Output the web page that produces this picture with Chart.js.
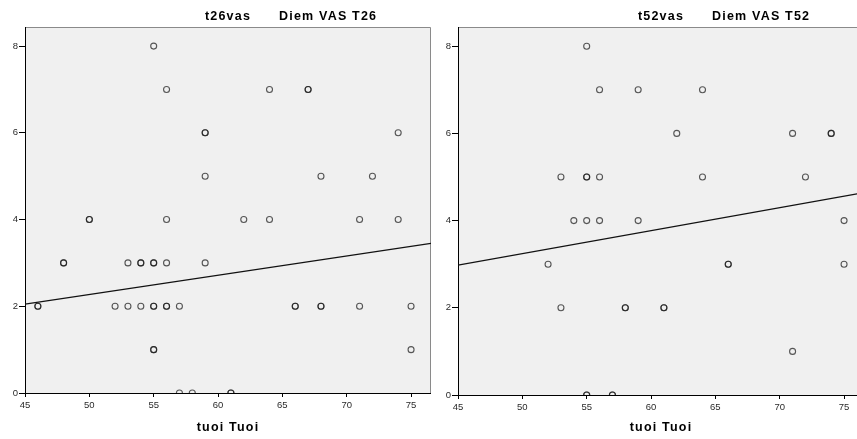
<!DOCTYPE html>
<html>
<head>
<meta charset="utf-8">
<script src="https://cdn.jsdelivr.net/npm/chart.js@4/dist/chart.umd.min.js"></script>
<style>
  html, body { margin: 0; padding: 0; background: #fff; overflow: hidden; }
  body { width: 857px; height: 439px; position: relative; }
  canvas { position: absolute; top: 0; display: block; }
  #chart26 { left: 0; }
  #chart52 { left: 433px; }
</style>
</head>
<body>
<canvas id="chart26" width="431" height="439"></canvas>
<canvas id="chart52" width="431" height="439"></canvas>
<script>
/* ---------- data ---------- */
const xTicks = [45, 50, 55, 60, 65, 70, 75];
const yTicks = [0, 2, 4, 6, 8];

// T26 panel (repeated pairs = overlapping points)
const t26Age = [55, 56, 64, 67, 67, 59, 59, 74, 59, 68, 72,
  50, 50, 56, 62, 64, 71, 74,
  48, 48, 53, 54, 54, 55, 55, 56, 59,
  46, 46, 52, 53, 54, 55, 55, 56, 56, 57, 66, 66, 68, 68, 71, 75,
  55, 55, 75,
  57, 58, 61, 61];
const t26Vas = [8, 7, 7, 7, 7, 6, 6, 6, 5, 5, 5,
  4, 4, 4, 4, 4, 4, 4,
  3, 3, 3, 3, 3, 3, 3, 3, 3,
  2, 2, 2, 2, 2, 2, 2, 2, 2, 2, 2, 2, 2, 2, 2, 2,
  1, 1, 1,
  0, 0, 0, 0];
const t26FitX = [45, 76.55];
const t26FitY = [2.05, 3.45];

// T52 panel
const t52Age = [55, 56, 59, 64, 62, 71, 74, 74,
  53, 55, 55, 56, 64, 72,
  54, 55, 56, 59, 75,
  52, 66, 66, 75,
  53, 58, 58, 61, 61,
  71,
  55, 55, 57, 57];
const t52Vas = [8, 7, 7, 7, 6, 6, 6, 6,
  5, 5, 5, 5, 5, 5,
  4, 4, 4, 4, 4,
  3, 3, 3, 3,
  2, 2, 2, 2, 2,
  1,
  0, 0, 0, 0];
const t52FitX = [45, 76.55];
const t52FitY = [2.98, 4.64];

/* ---------- frame + titles ---------- */
const TEXT_FONT = 'bold 12.5px "Liberation Sans", Arial, sans-serif';
const TICK_FONT = { family: '"Liberation Sans", Arial, sans-serif', size: 9.5 };

const panelFrame = {
  id: 'panelFrame',
  beforeDraw(chart) {
    const { ctx, chartArea: a } = chart;
    ctx.save();
    ctx.fillStyle = '#f0f0f0';
    ctx.fillRect(a.left, a.top, a.right - a.left, a.bottom - a.top);
    ctx.strokeStyle = '#8a8a8a';
    ctx.lineWidth = 1;
    ctx.beginPath();
    ctx.moveTo(a.left, a.top + 0.5);
    ctx.lineTo(a.right - 0.5, a.top + 0.5);
    ctx.lineTo(a.right - 0.5, a.bottom);
    ctx.stroke();
    ctx.restore();
  },
  afterDraw(chart, args, opts) {
    const { ctx, chartArea: a } = chart;
    const mid = (a.left + a.right) / 2;
    ctx.save();
    ctx.font = TEXT_FONT;
    ctx.fillStyle = '#000';
    ctx.textBaseline = 'middle';
    if ('letterSpacing' in ctx) ctx.letterSpacing = '1.2px';
    ctx.textAlign = 'center';
    ctx.fillText(opts.varName, mid, 17);
    ctx.textAlign = 'left';
    ctx.fillText(opts.varLabel, mid + 51, 17);
    ctx.textAlign = 'center';
    ctx.fillText(opts.xTitle, mid, 428);
    ctx.restore();
  }
};

function makePanel(id, ages, scores, fitX, fitY, varName, varLabel, xAxisHeight) {
  const points = ages.map((x, i) => ({ x, y: scores[i] }));
  const fit = fitX.map((x, i) => ({ x, y: fitY[i] }));

  return new Chart(document.getElementById(id), {
    type: 'scatter',
    data: {
      datasets: [
        {
          data: points,
          pointStyle: 'circle',
          pointRadius: 3,
          pointBorderWidth: 1.1,
          borderColor: 'rgba(25,25,25,0.72)',
          backgroundColor: 'rgba(0,0,0,0)',
          clip: 0,
        },
        {
          type: 'line',
          data: fit,
          borderColor: '#111',
          borderWidth: 1.2,
          pointRadius: 0,
          fill: false,
          clip: 0,
        },
      ],
    },
    options: {
      responsive: false,
      devicePixelRatio: 1,
      animation: false,
      layout: { autoPadding: false, padding: { top: 27, right: 0, bottom: 0, left: 0 } },
      plugins: {
        legend: { display: false },
        tooltip: { enabled: false },
        panelFrame: { varName, varLabel, xTitle: 'tuoi Tuoi' },
      },
      scales: {
        x: {
          type: 'linear',
          min: 45,
          max: 76.55,
          afterBuildTicks: (s) => { s.ticks = xTicks.map((v) => ({ value: v })); },
          afterFit: (s) => { s.height = xAxisHeight; s.paddingLeft = 0; s.paddingRight = 0; },
          grid: { drawOnChartArea: false, drawTicks: true, tickLength: 4, tickColor: '#000' },
          border: { color: '#000', width: 1 },
          ticks: { color: '#2a2a2a', padding: 2.5, maxRotation: 0, font: TICK_FONT },
        },
        y: {
          type: 'linear',
          min: 0,
          max: 8.44,
          afterBuildTicks: (s) => { s.ticks = yTicks.map((v) => ({ value: v })); },
          afterFit: (s) => { s.width = 25; s.paddingTop = 0; s.paddingBottom = 0; },
          grid: { drawOnChartArea: false, drawTicks: true, tickLength: 6, tickColor: '#000' },
          border: { color: '#000', width: 1 },
          ticks: { color: '#2a2a2a', padding: 1, font: TICK_FONT },
        },
      },
    },
    plugins: [panelFrame],
  });
}

makePanel('chart26', t26Age, t26Vas, t26FitX, t26FitY, 't26vas', 'Diem VAS T26', 46);
makePanel('chart52', t52Age, t52Vas, t52FitX, t52FitY, 't52vas', 'Diem VAS T52', 44);
</script>
</body>
</html>
